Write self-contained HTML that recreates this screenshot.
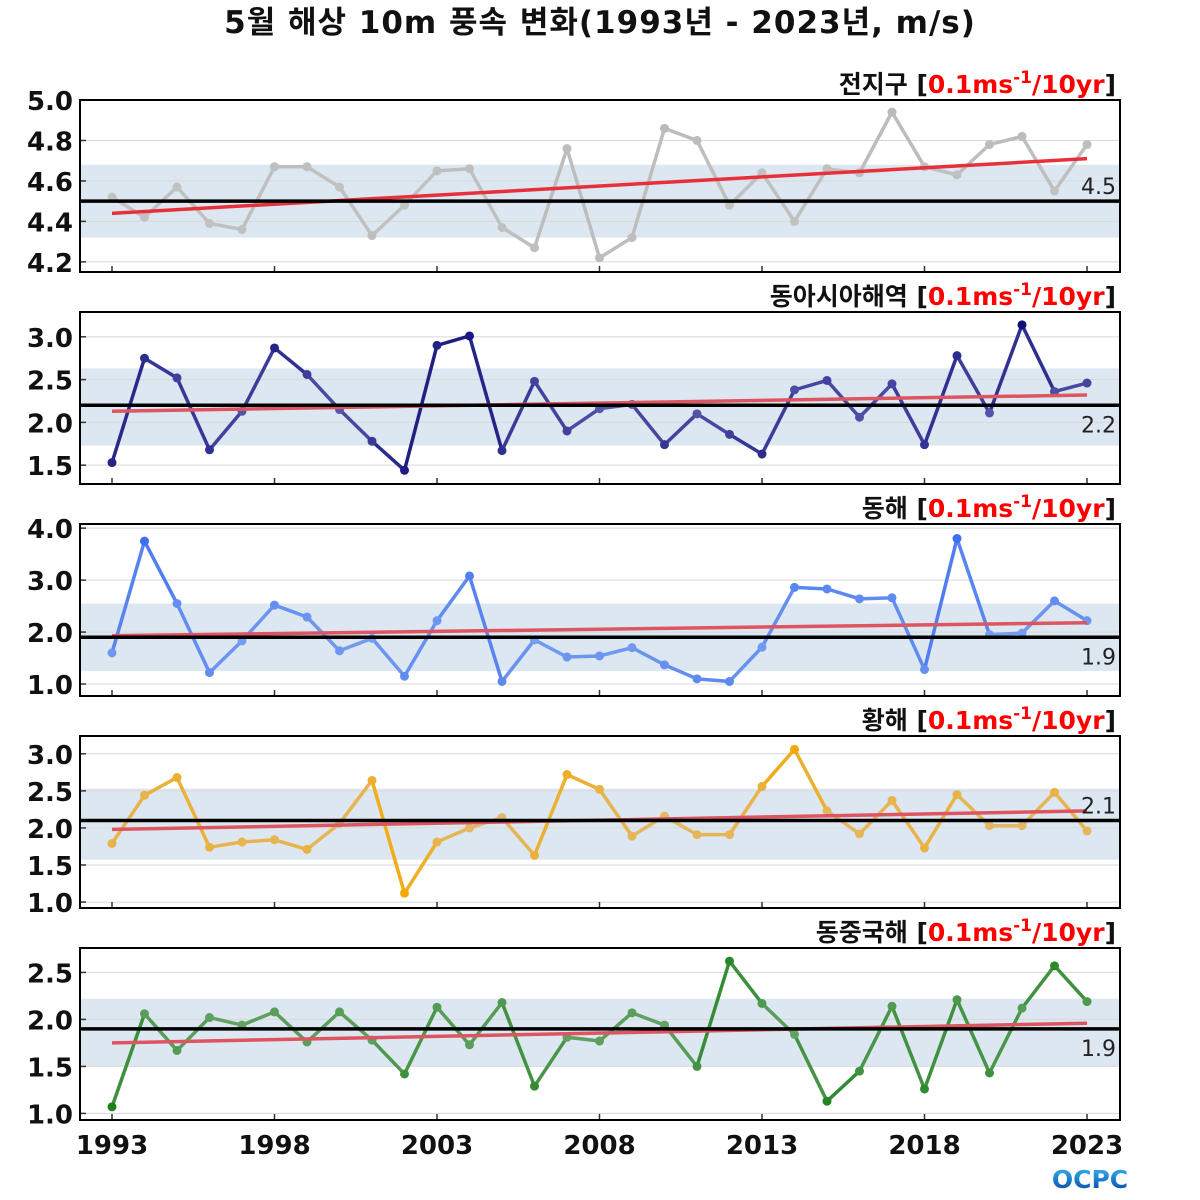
<!DOCTYPE html>
<html><head><meta charset="utf-8">
<style>
html,body{margin:0;padding:0;background:#fff;width:1200px;height:1200px;overflow:hidden}
svg text{font-family:"DejaVu Sans","Noto Sans CJK KR",sans-serif}
</style></head>
<body>
<svg id="chart" width="1200" height="1200" viewBox="0 0 1200 1200" xmlns="http://www.w3.org/2000/svg">
<text x="600" y="33" text-anchor="middle" font-size="31" letter-spacing="1" font-weight="bold" fill="#111">5월 해상 10m 풍속 변화(1993년 - 2023년, m/s)</text>
<defs><linearGradient id="ocpcg" x1="0" y1="0" x2="0" y2="1"><stop offset="0" stop-color="#3fb8e8"/><stop offset="0.5" stop-color="#1a7fd0"/><stop offset="1" stop-color="#0b3f9a"/></linearGradient></defs>
<text x="1090" y="1188" text-anchor="middle" font-size="25" font-weight="bold" fill="url(#ocpcg)">OCPC</text>
</svg>
<script>
const years = [1993,1994,1995,1996,1997,1998,1999,2000,2001,2002,2003,2004,2005,2006,2007,2008,2009,2010,2011,2012,2013,2014,2015,2016,2017,2018,2019,2020,2021,2022,2023];
const xTicks = [1993,1998,2003,2008,2013,2018,2023];
const globalVals = [4.52,4.42,4.57,4.39,4.36,4.67,4.67,4.57,4.33,4.48,4.65,4.66,4.37,4.27,4.76,4.22,4.32,4.86,4.80,4.48,4.64,4.40,4.66,4.64,4.94,4.67,4.63,4.78,4.82,4.55,4.78];
const eastAsiaVals = [1.53,2.75,2.52,1.68,2.13,2.87,2.56,2.15,1.78,1.44,2.90,3.01,1.67,2.48,1.90,2.16,2.21,1.74,2.10,1.86,1.63,2.38,2.49,2.06,2.45,1.74,2.78,2.11,3.14,2.36,2.46];
const eastSeaVals = [1.60,3.75,2.55,1.22,1.83,2.52,2.29,1.64,1.88,1.15,2.22,3.08,1.05,1.85,1.52,1.54,1.70,1.37,1.10,1.05,1.71,2.86,2.83,2.64,2.66,1.28,3.80,1.95,1.98,2.60,2.22];
const yellowSeaVals = [1.79,2.44,2.68,1.74,1.81,1.84,1.71,2.06,2.64,1.12,1.81,2.00,2.14,1.63,2.72,2.52,1.89,2.16,1.91,1.91,2.56,3.06,2.23,1.92,2.37,1.73,2.45,2.03,2.03,2.48,1.96];
const eastChinaVals = [1.07,2.06,1.67,2.02,1.94,2.08,1.76,2.08,1.78,1.42,2.13,1.73,2.18,1.29,1.81,1.77,2.07,1.94,1.50,2.62,2.17,1.84,1.13,1.45,2.14,1.26,2.21,1.43,2.12,2.57,2.19];
const panelNames = ["전지구","동아시아해역","동해","황해","동중국해"];
const panelMeans = [4.5,2.2,1.9,2.1,1.9];
const panelBands = [[4.32,4.68],[1.73,2.63],[1.25,2.55],[1.57,2.53],[1.50,2.22]];
const panelTrends = [[4.44,4.71],[2.13,2.32],[1.93,2.18],[1.98,2.23],[1.75,1.96]];
const panelTicks = [[4.2,4.4,4.6,4.8,5.0],[1.5,2.0,2.5,3.0],[1.0,2.0,3.0,4.0],[1.0,1.5,2.0,2.5,3.0],[1.0,1.5,2.0,2.5]];
const tickLabels = [["4.2","4.4","4.6","4.8","5.0"],["1.5","2.0","2.5","3.0"],["1.0","2.0","3.0","4.0"],["1.0","1.5","2.0","2.5","3.0"],["1.0","1.5","2.0","2.5"]];
const panelDomains = [[4.15,5.0],[1.28,3.29],[0.77,4.08],[0.92,3.24],[0.93,2.76]];
const meanLabels = ["4.5","2.2","1.9","2.1","1.9"];
const allVals = [globalVals,eastAsiaVals,eastSeaVals,yellowSeaVals,eastChinaVals];
const slugs = ["global","east-asia","east-sea","yellow-sea","east-china-sea"];
const lightC = [[195,195,195],[90,90,175],[120,158,240],[225,185,110],[105,165,105]];
const darkC = [[185,185,185],[15,15,120],[60,110,240],[245,168,0],[30,130,30]];

const NS="http://www.w3.org/2000/svg";
const svg=document.getElementById('chart');
const X0=80,X1=1120;
const tops=[100,312,524,736,948], H=172;
function xs(yr){return 112+(yr-1993)*(1087-112)/30;}
function mk(tag,attrs,parent){const e=document.createElementNS(NS,tag);for(const k in attrs)e.setAttribute(k,attrs[k]);(parent||svg).appendChild(e);return e;}

for(let p=0;p<5;p++){
  const top=tops[p],bot=top+H;
  const [d0,d1]=panelDomains[p];
  const ys=v=>bot-(v-d0)/(d1-d0)*H;
  const g=mk('g',{});
  
  
  const band=mk('rect',{x:X0,y:ys(panelBands[p][1]),width:X1-X0,height:ys(panelBands[p][0])-ys(panelBands[p][1]),fill:'#dde7f1'},g);
  
  
  panelTicks[p].forEach((t,i)=>{
    const y=ys(t);
    const gl=mk('line',{x1:X0,x2:X1,y1:y,y2:y,stroke:'#d8d8d8','stroke-width':1},g);
    
    
    mk('line',{x1:X0,x2:X0+6,y1:y,y2:y,stroke:'#333','stroke-width':1.5},g);
    const tl=mk('text',{x:73,y:y+10,'text-anchor':'end','font-size':26,'font-weight':'bold',fill:'#111'},g);
    tl.textContent=tickLabels[p][i];
    
    
  });
  xTicks.forEach(t=>{mk('line',{x1:xs(t),x2:xs(t),y1:bot,y2:bot-6,stroke:'#333','stroke-width':1.5},g);});
  const vals=allVals[p],mean=panelMeans[p];
  let maxDev=0;vals.forEach(v=>maxDev=Math.max(maxDev,Math.abs(v-mean)));
  const col=dev=>{const t=Math.min(1,dev/maxDev);const a=lightC[p],b=darkC[p];return 'rgb('+a.map((c,i)=>Math.round(c+(b[i]-c)*t)).join(',')+')';};
  for(let i=0;i<vals.length-1;i++){
    const dev=(Math.abs(vals[i]-mean)+Math.abs(vals[i+1]-mean))/2;
    const s=mk('line',{x1:xs(years[i]),y1:ys(vals[i]),x2:xs(years[i+1]),y2:ys(vals[i+1]),stroke:col(dev),'stroke-width':3.5,'stroke-linecap':'round'},g);
    
    
  }
  vals.forEach((v,i)=>{
    const c=mk('circle',{cx:xs(years[i]),cy:ys(v),r:4.5,fill:col(Math.abs(v-mean))},g);
    
    
  });
  const tr=mk('line',{x1:xs(1993),y1:ys(panelTrends[p][0]),x2:xs(2023),y2:ys(panelTrends[p][1]),stroke:p==0?'#e8303a':'#dd5560','stroke-width':3.5},g);
  
  
  const ml=mk('line',{x1:X0,x2:X1,y1:ys(mean),y2:ys(mean),stroke:'#000','stroke-width':3.5},g);
  
  
  const mt=mk('text',{x:1116,y:(p==0||p==3)?ys(mean)-7:ys(mean)+27,'text-anchor':'end','font-size':22,fill:'#222'},g);
  mt.textContent=meanLabels[p];
  
  
  mk('rect',{x:X0,y:top,width:X1-X0,height:H,fill:'none',stroke:'#000','stroke-width':2},g);
  const pt=mk('text',{x:1116,y:top-7,'text-anchor':'end','font-size':25,'font-weight':'bold',fill:'#111'},g);
  
  
  pt.innerHTML=panelNames[p]+' [<tspan fill="#f00">0.1ms<tspan dy="-10" font-size="17">-1</tspan><tspan dy="10">/10yr</tspan></tspan>]';
}
xTicks.forEach(t=>{
  const l=mk('text',{x:xs(t),y:1154,'text-anchor':'middle','font-size':26,'font-weight':'bold',fill:'#111'});
  l.textContent=t;
  
  
});
</script>
</body></html>
